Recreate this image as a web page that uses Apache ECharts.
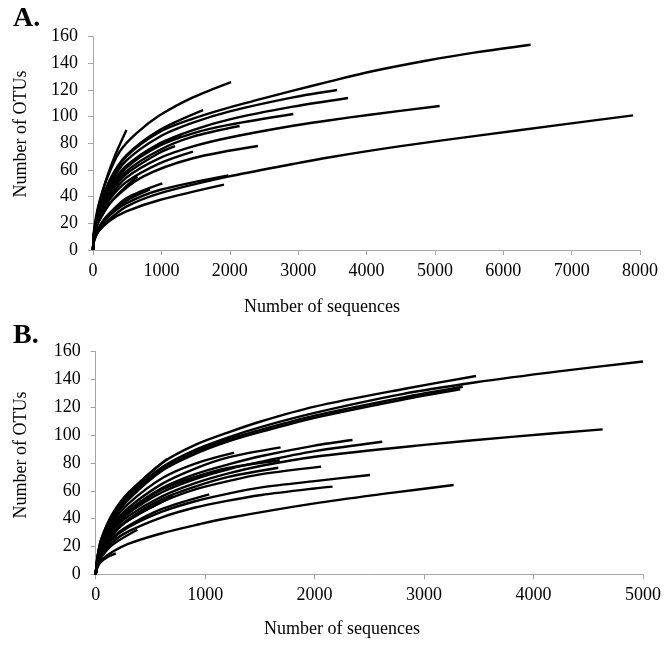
<!DOCTYPE html>
<html>
<head>
<meta charset="utf-8">
<script src="https://cdn.jsdelivr.net/npm/echarts@6/dist/echarts.min.js"></script>
<style>
html,body{margin:0;padding:0;background:#fff;}
#chart{width:664px;height:645px;}
</style>
</head>
<body>
<div id="chart"></div>
<script>
// ---- texts ----
const panelLabels = ['A.', 'B.'];
const xTitle = 'Number of sequences';
const yTitle = 'Number of OTUs';

// ---- tick labels ----
const yTicks = [0, 20, 40, 60, 80, 100, 120, 140, 160];
const xTicksA = [0, 1000, 2000, 3000, 4000, 5000, 6000, 7000, 8000];
const xTicksB = [0, 1000, 2000, 3000, 4000, 5000];

// ---- panel A curves: [sequences, OTUs] ----
const A01 = [[0,0],[10,10],[30,18],[80,32],[200,54],[300,68],[400,80],[490,90]];
const A02 = [[0,0],[10,12],[30,20.6],[80,33.6],[195,52.5],[390,73.8],[634,87.5],[975,101],[1462,114.5],[2020,126]];
const A03 = [[0,0],[10,10.6],[30,18.4],[80,30],[244,52.5],[487,71],[975,90],[1610,105]];
const A04 = [[0,0],[10,10],[30,18],[80,30],[244,51],[487,70],[975,88.5],[1462,98.5],[2000,107],[2925,119.5],[3466,126.5],[4051,133.7],[4928,142.5],[5600,148.2],[6400,154]];
const A05 = [[0,0],[10,10],[30,17.5],[80,29],[244,49],[487,67],[975,85],[1462,95.5],[2000,104],[2925,114.5],[3570,120]];
const A06 = [[0,0],[10,9.5],[30,17],[80,28],[244,46],[487,63],[975,80],[1462,90],[2000,98],[2925,107.5],[3730,114]];
const A07 = [[0,0],[10,8],[30,14.5],[80,24],[244,39.7],[487,54.3],[975,68.9],[1462,77.7],[2000,84.4],[2925,93.2],[3466,97.3],[4051,101.5],[5070,108]];
const A08 = [[0,0],[10,5],[30,9],[80,14],[195,21],[487,32.5],[975,42.5],[1974,55],[2925,64.5],[3466,69.6],[4500,77.9],[5660,86],[6800,93.7],[7900,101]];
const A09 = [[0,0],[10,9],[30,16],[80,27],[244,44.6],[487,61.6],[975,78.2],[1462,87.5],[2000,94],[2930,102]];
const A10 = [[0,0],[10,7.5],[30,13],[80,21],[292,37.5],[731,55],[1462,68.8],[2413,78]];
const A11 = [[0,0],[10,6],[30,10],[80,16],[244,26],[487,35],[975,45],[1980,56]];
const A12 = [[0,0],[10,5.5],[30,9],[80,14],[244,22],[487,29],[975,37.5],[1916,49]];
const A13 = [[0,0],[10,6.5],[30,10.5],[80,16.5],[195,25],[487,38.8],[1014,50]];
const A14 = [[0,0],[10,6],[30,10],[80,16],[244,27],[487,37],[834,45.5]];
const A15 = [[0,0],[10,9],[30,16],[80,26],[244,43],[487,59],[975,75],[1462,85],[2145,93]];
const A16 = [[0,0],[10,8],[30,14],[80,23],[244,38],[487,51],[975,65],[1462,73.8]];
const A17 = [[0,0],[10,10],[30,17],[80,28.5],[244,47],[487,63],[975,79],[1292,86.3]];
const A18 = [[0,0],[10,9],[30,15.5],[80,25],[244,42],[487,57],[975,73],[1200,78]];
const A19 = [[0,0],[10,7.5],[30,13],[80,21],[244,35],[487,48],[650,55]];

// ---- panel B curves: [sequences, OTUs] ----
const B01 = [[0,0],[15,11],[50,24],[150,41],[303,57],[606,77],[909,89.5],[1212,98.5],[1515,106],[2000,116],[2800,129.5],[3475,138],[4248,146],[5000,153]];
const B02 = [[0,0],[15,12],[50,25],[150,42],[303,58],[606,80],[909,93],[1212,102],[1515,110],[2000,120.5],[2800,133],[3475,142.5]];
const B03 = [[0,0],[15,11],[50,23],[150,40],[303,55],[606,76],[909,88],[1212,97],[1515,104],[2000,114],[2800,127],[3354,134.8]];
const B04 = [[0,0],[15,10],[50,22],[150,39],[303,54],[606,74.5],[909,86.5],[1212,95.5],[1515,102.5],[2000,112.5],[2800,125.5],[3330,133]];
const B05 = [[0,0],[15,9],[50,19],[150,34],[303,46],[606,62],[909,72],[1212,79],[1515,85],[2000,92.5],[2346,96.5]];
const B06 = [[0,0],[15,9],[50,18],[150,32],[303,44],[606,59],[909,68.5],[1212,75.5],[1515,81],[2000,88.5],[2618,95.3]];
const B07 = [[0,0],[15,8],[50,17],[150,31],[303,42],[606,56],[909,65.5],[1212,72.5],[1515,78],[2000,84.5],[3000,93],[3800,98.8],[4632,104.2]];
const B08 = [[0,0],[15,7],[50,14],[150,25],[303,34],[606,45],[909,52.5],[1212,58],[1515,62.5],[2000,67],[2506,71.4]];
const B09 = [[0,0],[15,6],[50,13],[150,23],[303,31],[606,41],[909,48],[1212,53],[1515,57],[2000,61.7],[2164,63]];
const B10 = [[0,0],[15,5],[50,10],[150,16],[303,22],[606,29.5],[947,36],[1212,40.5],[2000,51],[2700,58.5],[3270,64.2]];
const B11 = [[0,0],[15,8],[50,16],[150,29],[303,39],[606,52],[909,61],[1212,67],[1515,72],[2059,77.4]];
const B12 = [[0,0],[15,9],[50,19],[150,35],[303,48],[606,65],[909,76],[1212,84],[1689,91.2]];
const B13 = [[0,0],[15,10],[50,20],[150,37],[303,51],[606,69],[909,79.5],[1265,87.4]];
const B14 = [[0,0],[15,8],[50,16],[150,29],[303,40],[606,54],[909,63],[1212,70],[1668,76.6]];
const B15 = [[0,0],[15,7],[50,14],[150,26],[303,35],[606,47],[1038,57.5]];
const B16 = [[0,0],[15,7],[50,15],[150,28],[303,39],[711,56.3]];
const B17 = [[0,0],[15,5],[50,9],[100,12],[184,15]];
const B18 = [[0,0],[15,12],[50,25],[150,43],[303,59],[652,83]];
const B19 = [[0,0],[15,9],[50,18],[150,33],[303,45],[606,61],[909,70],[1212,76.5],[1682,82]];
const B20 = [[0,0],[15,6],[50,12],[150,21],[380,32]];

const curvesA = [A01,A02,A03,A04,A05,A06,A07,A08,A09,A10,A11,A12,A13,A14,A15,A16,A17,A18,A19];
const curvesB = [B01,B02,B03,B04,B05,B06,B07,B08,B09,B10,B11,B12,B13,B14,B15,B16,B17,B18,B19,B20];

const FONT = 'Liberation Serif, Times New Roman, serif';
const FS = 18;
const AXIS_GRAY = '#a6a6a6';

function makeX(idx, ticks) {
  return {
    type: 'value', gridIndex: idx,
    min: ticks[0], max: ticks[ticks.length - 1], interval: ticks[1] - ticks[0],
    axisLine: { show: true, lineStyle: { color: AXIS_GRAY, width: 1 } },
    axisTick: { show: true, length: 5, lineStyle: { color: AXIS_GRAY } },
    splitLine: { show: false },
    axisLabel: { color: '#000', fontFamily: FONT, fontSize: FS, margin: 12, formatter: v => String(v) }
  };
}
function makeY(idx) {
  return {
    type: 'value', gridIndex: idx,
    min: yTicks[0], max: yTicks[yTicks.length - 1], interval: yTicks[1] - yTicks[0],
    axisLine: { show: true, lineStyle: { color: AXIS_GRAY, width: 1 } },
    axisTick: { show: true, length: 5, lineStyle: { color: AXIS_GRAY } },
    splitLine: { show: false },
    axisLabel: { color: '#000', fontFamily: FONT, fontSize: FS, margin: 15, formatter: v => String(v) }
  };
}
function makeSeries(curves, idx) {
  return curves.map(c => ({
    type: 'line', xAxisIndex: idx, yAxisIndex: idx,
    data: c, showSymbol: false, smooth: 0.3,
    lineStyle: { color: '#000', width: 2.4, join: 'round', cap: 'butt' },
    emphasis: { disabled: true }, silent: true, z: 3
  }));
}

const chart = echarts.init(document.getElementById('chart'), null, { renderer: 'canvas' });
chart.setOption({
  animation: false,
  backgroundColor: '#fff',
  grid: [
    { left: 93, top: 36.7, width: 547, height: 213.3 },
    { left: 95.7, top: 351.7, width: 550.3, height: 222.6 }
  ],
  xAxis: [makeX(0, xTicksA), makeX(1, xTicksB)],
  yAxis: [makeY(0), makeY(1)],
  series: makeSeries(curvesA, 0).concat(makeSeries(curvesB, 1)),
  graphic: [
    { type: 'text', left: 13, top: 5, style: { text: panelLabels[0], font: 'bold 28px ' + FONT, fill: '#000' } },
    { type: 'text', left: 13, top: 322, style: { text: panelLabels[1], font: 'bold 28px ' + FONT, fill: '#000' } },
    { type: 'text', x: 322, y: 307, style: { text: xTitle, font: FS + 'px ' + FONT, fill: '#000', textAlign: 'center', textVerticalAlign: 'middle' } },
    { type: 'text', x: 342, y: 629, style: { text: xTitle, font: FS + 'px ' + FONT, fill: '#000', textAlign: 'center', textVerticalAlign: 'middle' } },
    { type: 'text', x: 21, y: 134, rotation: Math.PI / 2, style: { text: yTitle, font: FS + 'px ' + FONT, fill: '#000', textAlign: 'center', textVerticalAlign: 'middle' } },
    { type: 'text', x: 21, y: 455, rotation: Math.PI / 2, style: { text: yTitle, font: FS + 'px ' + FONT, fill: '#000', textAlign: 'center', textVerticalAlign: 'middle' } }
  ]
});
</script>
</body>
</html>
